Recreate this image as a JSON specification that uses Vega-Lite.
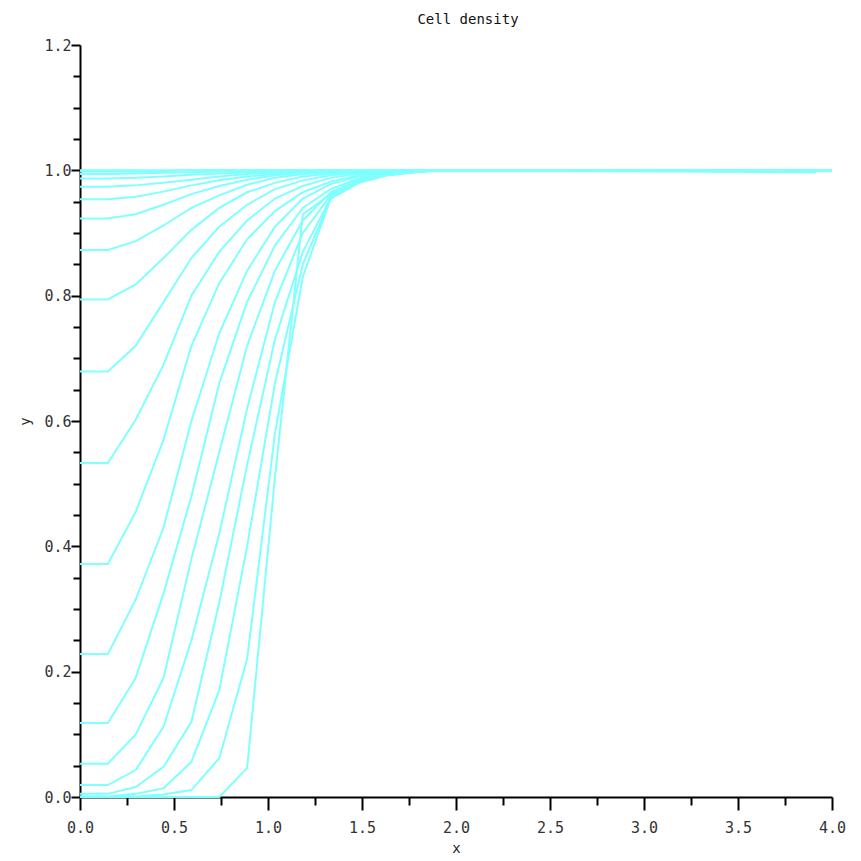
{
  "$schema": "https://vega.github.io/schema/vega-lite/v6.json",
  "width": 752,
  "height": 752,
  "autosize": {"type": "none"},
  "padding": {"left": 80, "top": 45, "right": 29, "bottom": 64},
  "background": "white",
  "title": {"text": "Cell density", "font": "DejaVu Sans Mono", "fontSize": 14, "fontWeight": "normal", "color": "#111", "anchor": "middle", "offset": 11, "dx": 12},
  "config": {"view": {"stroke": null}},
  "data": {"values": [
    {"t":0,"x":0,"y":0},{"t":0,"x":0.1481,"y":0},{"t":0,"x":0.2963,"y":0},{"t":0,"x":0.4444,"y":0},{"t":0,"x":0.5926,"y":0},{"t":0,"x":0.7407,"y":0},{"t":0,"x":0.8889,"y":0.046},{"t":0,"x":1.037,"y":0.51},{"t":0,"x":1.1852,"y":0.93},{"t":0,"x":1.3333,"y":0.962},{"t":0,"x":1.4815,"y":0.983},{"t":0,"x":1.6296,"y":0.993},{"t":0,"x":1.7778,"y":0.998},{"t":0,"x":1.9259,"y":1},{"t":0,"x":3.915,"y":0.997},
    {"t":1,"x":0,"y":0},{"t":1,"x":0.1481,"y":0},{"t":1,"x":0.2963,"y":0.001},{"t":1,"x":0.4444,"y":0.004},{"t":1,"x":0.5926,"y":0.011},{"t":1,"x":0.7407,"y":0.062},{"t":1,"x":0.8889,"y":0.22},{"t":1,"x":1.037,"y":0.58},{"t":1,"x":1.1852,"y":0.83},{"t":1,"x":1.3333,"y":0.955},{"t":1,"x":1.4815,"y":0.98},{"t":1,"x":1.6296,"y":0.992},{"t":1,"x":1.7778,"y":0.997},{"t":1,"x":1.9259,"y":1},{"t":1,"x":4,"y":1},
    {"t":2,"x":0,"y":0.001},{"t":2,"x":0.1481,"y":0.001},{"t":2,"x":0.2963,"y":0.005},{"t":2,"x":0.4444,"y":0.014},{"t":2,"x":0.5926,"y":0.056},{"t":2,"x":0.7407,"y":0.17},{"t":2,"x":0.8889,"y":0.4},{"t":2,"x":1.037,"y":0.66},{"t":2,"x":1.1852,"y":0.85},{"t":2,"x":1.3333,"y":0.955},{"t":2,"x":1.4815,"y":0.98},{"t":2,"x":1.6296,"y":0.992},{"t":2,"x":1.7778,"y":0.997},{"t":2,"x":1.9259,"y":1},{"t":2,"x":4,"y":1},
    {"t":3,"x":0,"y":0.005},{"t":3,"x":0.1481,"y":0.005},{"t":3,"x":0.2963,"y":0.016},{"t":3,"x":0.4444,"y":0.048},{"t":3,"x":0.5926,"y":0.12},{"t":3,"x":0.7407,"y":0.31},{"t":3,"x":0.8889,"y":0.53},{"t":3,"x":1.037,"y":0.73},{"t":3,"x":1.1852,"y":0.87},{"t":3,"x":1.3333,"y":0.956},{"t":3,"x":1.4815,"y":0.981},{"t":3,"x":1.6296,"y":0.992},{"t":3,"x":1.7778,"y":0.997},{"t":3,"x":1.9259,"y":1},{"t":3,"x":4,"y":1},
    {"t":4,"x":0,"y":0.019},{"t":4,"x":0.1481,"y":0.019},{"t":4,"x":0.2963,"y":0.043},{"t":4,"x":0.4444,"y":0.112},{"t":4,"x":0.5926,"y":0.25},{"t":4,"x":0.7407,"y":0.42},{"t":4,"x":0.8889,"y":0.62},{"t":4,"x":1.037,"y":0.79},{"t":4,"x":1.1852,"y":0.9},{"t":4,"x":1.3333,"y":0.96},{"t":4,"x":1.4815,"y":0.983},{"t":4,"x":1.6296,"y":0.993},{"t":4,"x":1.7778,"y":0.998},{"t":4,"x":1.9259,"y":1},{"t":4,"x":4,"y":1},
    {"t":5,"x":0,"y":0.053},{"t":5,"x":0.1481,"y":0.053},{"t":5,"x":0.2963,"y":0.1},{"t":5,"x":0.4444,"y":0.19},{"t":5,"x":0.5926,"y":0.38},{"t":5,"x":0.7407,"y":0.55},{"t":5,"x":0.8889,"y":0.72},{"t":5,"x":1.037,"y":0.84},{"t":5,"x":1.1852,"y":0.92},{"t":5,"x":1.3333,"y":0.965},{"t":5,"x":1.4815,"y":0.985},{"t":5,"x":1.6296,"y":0.994},{"t":5,"x":1.7778,"y":0.998},{"t":5,"x":1.9259,"y":1},{"t":5,"x":4,"y":1},
    {"t":6,"x":0,"y":0.118},{"t":6,"x":0.1481,"y":0.118},{"t":6,"x":0.2963,"y":0.19},{"t":6,"x":0.4444,"y":0.325},{"t":6,"x":0.5926,"y":0.48},{"t":6,"x":0.7407,"y":0.66},{"t":6,"x":0.8889,"y":0.79},{"t":6,"x":1.037,"y":0.88},{"t":6,"x":1.1852,"y":0.94},{"t":6,"x":1.3333,"y":0.97},{"t":6,"x":1.4815,"y":0.987},{"t":6,"x":1.6296,"y":0.995},{"t":6,"x":1.7778,"y":0.998},{"t":6,"x":1.9259,"y":1},{"t":6,"x":4,"y":1},
    {"t":7,"x":0,"y":0.228},{"t":7,"x":0.1481,"y":0.228},{"t":7,"x":0.2963,"y":0.315},{"t":7,"x":0.4444,"y":0.43},{"t":7,"x":0.5926,"y":0.6},{"t":7,"x":0.7407,"y":0.74},{"t":7,"x":0.8889,"y":0.84},{"t":7,"x":1.037,"y":0.91},{"t":7,"x":1.1852,"y":0.955},{"t":7,"x":1.3333,"y":0.978},{"t":7,"x":1.4815,"y":0.99},{"t":7,"x":1.6296,"y":0.996},{"t":7,"x":1.7778,"y":0.999},{"t":7,"x":1.9259,"y":1},{"t":7,"x":4,"y":1},
    {"t":8,"x":0,"y":0.372},{"t":8,"x":0.1481,"y":0.372},{"t":8,"x":0.2963,"y":0.455},{"t":8,"x":0.4444,"y":0.57},{"t":8,"x":0.5926,"y":0.72},{"t":8,"x":0.7407,"y":0.82},{"t":8,"x":0.8889,"y":0.89},{"t":8,"x":1.037,"y":0.935},{"t":8,"x":1.1852,"y":0.965},{"t":8,"x":1.3333,"y":0.982},{"t":8,"x":1.4815,"y":0.992},{"t":8,"x":1.6296,"y":0.997},{"t":8,"x":1.7778,"y":1},{"t":8,"x":4,"y":1},
    {"t":9,"x":0,"y":0.533},{"t":9,"x":0.1481,"y":0.533},{"t":9,"x":0.2963,"y":0.602},{"t":9,"x":0.4444,"y":0.69},{"t":9,"x":0.5926,"y":0.8},{"t":9,"x":0.7407,"y":0.87},{"t":9,"x":0.8889,"y":0.92},{"t":9,"x":1.037,"y":0.955},{"t":9,"x":1.1852,"y":0.975},{"t":9,"x":1.3333,"y":0.988},{"t":9,"x":1.4815,"y":0.995},{"t":9,"x":1.6296,"y":0.998},{"t":9,"x":1.7778,"y":1},{"t":9,"x":4,"y":1},
    {"t":10,"x":0,"y":0.679},{"t":10,"x":0.1481,"y":0.679},{"t":10,"x":0.2963,"y":0.72},{"t":10,"x":0.4444,"y":0.79},{"t":10,"x":0.5926,"y":0.86},{"t":10,"x":0.7407,"y":0.91},{"t":10,"x":0.8889,"y":0.945},{"t":10,"x":1.037,"y":0.97},{"t":10,"x":1.1852,"y":0.984},{"t":10,"x":1.3333,"y":0.992},{"t":10,"x":1.4815,"y":0.997},{"t":10,"x":1.6296,"y":1},{"t":10,"x":4,"y":1},
    {"t":11,"x":0,"y":0.794},{"t":11,"x":0.1481,"y":0.794},{"t":11,"x":0.2963,"y":0.818},{"t":11,"x":0.4444,"y":0.86},{"t":11,"x":0.5926,"y":0.905},{"t":11,"x":0.7407,"y":0.94},{"t":11,"x":0.8889,"y":0.965},{"t":11,"x":1.037,"y":0.98},{"t":11,"x":1.1852,"y":0.99},{"t":11,"x":1.3333,"y":0.995},{"t":11,"x":1.4815,"y":0.998},{"t":11,"x":1.6296,"y":1},{"t":11,"x":4,"y":1},
    {"t":12,"x":0,"y":0.873},{"t":12,"x":0.1481,"y":0.873},{"t":12,"x":0.2963,"y":0.887},{"t":12,"x":0.4444,"y":0.912},{"t":12,"x":0.5926,"y":0.94},{"t":12,"x":0.7407,"y":0.96},{"t":12,"x":0.8889,"y":0.977},{"t":12,"x":1.037,"y":0.988},{"t":12,"x":1.1852,"y":0.994},{"t":12,"x":1.3333,"y":0.997},{"t":12,"x":1.4815,"y":1},{"t":12,"x":4,"y":1},
    {"t":13,"x":0,"y":0.923},{"t":13,"x":0.1481,"y":0.923},{"t":13,"x":0.2963,"y":0.93},{"t":13,"x":0.4444,"y":0.945},{"t":13,"x":0.5926,"y":0.962},{"t":13,"x":0.7407,"y":0.975},{"t":13,"x":0.8889,"y":0.985},{"t":13,"x":1.037,"y":0.992},{"t":13,"x":1.1852,"y":0.996},{"t":13,"x":1.3333,"y":0.998},{"t":13,"x":1.4815,"y":1},{"t":13,"x":4,"y":1},
    {"t":14,"x":0,"y":0.954},{"t":14,"x":0.1481,"y":0.954},{"t":14,"x":0.2963,"y":0.958},{"t":14,"x":0.4444,"y":0.966},{"t":14,"x":0.5926,"y":0.976},{"t":14,"x":0.7407,"y":0.984},{"t":14,"x":0.8889,"y":0.99},{"t":14,"x":1.037,"y":0.994},{"t":14,"x":1.1852,"y":0.997},{"t":14,"x":1.3333,"y":1},{"t":14,"x":4,"y":1},
    {"t":15,"x":0,"y":0.974},{"t":15,"x":0.1481,"y":0.974},{"t":15,"x":0.2963,"y":0.976},{"t":15,"x":0.4444,"y":0.98},{"t":15,"x":0.5926,"y":0.985},{"t":15,"x":0.7407,"y":0.99},{"t":15,"x":0.8889,"y":0.994},{"t":15,"x":1.037,"y":0.997},{"t":15,"x":1.1852,"y":0.999},{"t":15,"x":1.3333,"y":1},{"t":15,"x":4,"y":1},
    {"t":16,"x":0,"y":0.987},{"t":16,"x":0.1481,"y":0.987},{"t":16,"x":0.2963,"y":0.988},{"t":16,"x":0.4444,"y":0.99},{"t":16,"x":0.5926,"y":0.993},{"t":16,"x":0.7407,"y":0.995},{"t":16,"x":0.8889,"y":0.997},{"t":16,"x":1.037,"y":0.999},{"t":16,"x":1.1852,"y":1},{"t":16,"x":4,"y":1},
    {"t":17,"x":0,"y":0.994},{"t":17,"x":0.1481,"y":0.994},{"t":17,"x":0.2963,"y":0.995},{"t":17,"x":0.4444,"y":0.996},{"t":17,"x":0.5926,"y":0.997},{"t":17,"x":0.7407,"y":0.998},{"t":17,"x":0.8889,"y":0.999},{"t":17,"x":1.037,"y":1},{"t":17,"x":4,"y":1},
    {"t":18,"x":0,"y":0.998},{"t":18,"x":0.1481,"y":0.998},{"t":18,"x":0.2963,"y":0.998},{"t":18,"x":0.4444,"y":0.999},{"t":18,"x":0.5926,"y":1},{"t":18,"x":4,"y":1},
    {"t":19,"x":0,"y":1},{"t":19,"x":4,"y":1}
  ]},
  "mark": {"type": "line", "color": "#80ffff", "strokeWidth": 2, "clip": false},
  "encoding": {
    "x": {"field": "x", "type": "quantitative", "scale": {"domain": [0, 4], "nice": false, "zero": false},
      "axis": {"values": [0,0.25,0.5,0.75,1,1.25,1.5,1.75,2,2.25,2.5,2.75,3,3.25,3.5,3.75,4],
        "format": ".1f",
        "labelExpr": "datum.value*2 == round(datum.value*2) ? datum.label : ''",
        "tickSize": {"condition": {"test": "datum.value*2 == round(datum.value*2)", "value": 13}, "value": 8},
        "tickColor": "#000", "tickWidth": 2, "domainColor": "#000", "domainWidth": 2, "grid": false,
        "labelFont": "DejaVu Sans Mono", "labelFontSize": 15, "labelColor": "#333", "labelPadding": 10, "labelFlush": false, "labelOverlap": false,
        "title": "x", "titleFont": "DejaVu Sans Mono", "titleFontSize": 14, "titleFontWeight": "normal", "titleColor": "#222", "titlePadding": 6}},
    "y": {"field": "y", "type": "quantitative", "scale": {"domain": [0, 1.2], "nice": false, "zero": false},
      "axis": {"values": [0,0.05,0.1,0.15,0.2,0.25,0.3,0.35,0.4,0.45,0.5,0.55,0.6,0.65,0.7,0.75,0.8,0.85,0.9,0.95,1,1.05,1.1,1.15,1.2],
        "format": ".1f",
        "labelExpr": "abs(datum.value*5 - round(datum.value*5)) < 0.001 ? datum.label : ''",
        "tickSize": {"condition": {"test": "abs(datum.value*5 - round(datum.value*5)) < 0.001", "value": 9}, "value": 7},
        "tickColor": "#000", "tickWidth": 2, "domainColor": "#000", "domainWidth": 2, "grid": false,
        "labelFont": "DejaVu Sans Mono", "labelFontSize": 15, "labelColor": "#333", "labelPadding": 0, "labelFlush": false, "labelOverlap": false,
        "title": "y", "titleFont": "DejaVu Sans Mono", "titleFontSize": 14, "titleFontWeight": "normal", "titleColor": "#222", "titlePadding": 11}},
    "detail": {"field": "t", "type": "nominal"}
  }
}
